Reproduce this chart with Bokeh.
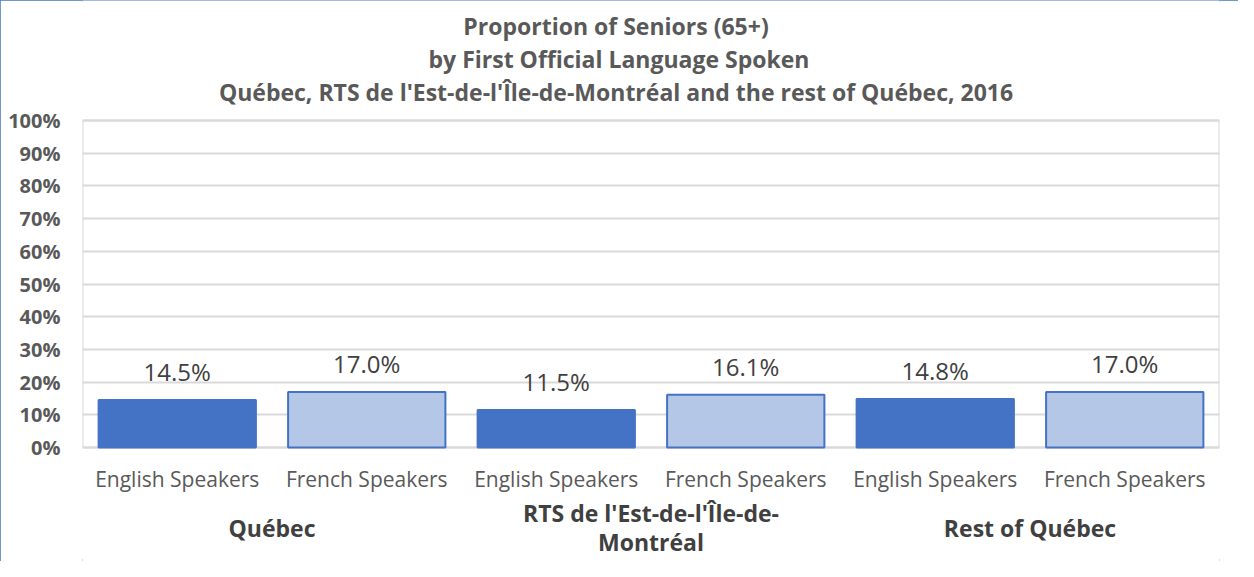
from bokeh.plotting import figure
from bokeh.models import FactorRange, Range1d, ColumnDataSource, LabelSet, FixedTicker, PrintfTickFormatter
from bokeh.core.properties import value
from bokeh.embed import file_html
from bokeh.resources import INLINE

# ---- data ----
groups = ["Québec", "RTS de l'Est-de-l'Île-de-\nMontréal", "Rest of Québec"]
speakers = ["English Speakers", "French Speakers"]
values = [14.5, 17.0, 11.5, 16.1, 14.8, 17.0]  # percent
y_ticks = [0, 10, 20, 30, 40, 50, 60, 70, 80, 90, 100]
title_lines = [
    "Proportion  of Seniors (65+)",
    "by First Official Language Spoken",
    "Québec, RTS de l'Est-de-l'Île-de-Montréal  and the rest of Québec, 2016",
]

DARK = "#4472C4"
LIGHT = "#B4C7E7"
GRID = "#D9D9D9"
FONT = "Open Sans"

# ---- layout (pixels) ----
W, H = 1238, 561
PLOT_TOP, PLOT_BOTTOM = 120, 447          # pixel rows of 100% and 0%
px_per_unit = (PLOT_BOTTOM - PLOT_TOP) / (y_ticks[-1] - y_ticks[0])
y_start = y_ticks[0] - (H - PLOT_BOTTOM) / px_per_unit
y_end = y_ticks[-1] + PLOT_TOP / px_per_unit

factors = [(g, s) for g in groups for s in speakers]
colors = [DARK if s == speakers[0] else LIGHT for g in groups for s in speakers]
labels = [f"{v:.1f}%" for v in values]

src = ColumnDataSource(dict(x=factors, top=values, color=colors, label=labels,
                            sub=[s for g in groups for s in speakers], zero=[y_ticks[0]] * len(factors)))

p = figure(
    width=W, height=H,
    x_range=FactorRange(*factors, group_padding=0, subgroup_padding=0, factor_padding=0, range_padding=0),
    y_range=Range1d(y_start, y_end),
    x_axis_location=None,
    output_backend="svg", toolbar_location=None,
    min_border_left=82, min_border_right=19, min_border_top=0, min_border_bottom=0,
)
p.styles = {"outline": "2px solid #4472C4", "outline-offset": "-2px"}

# plot-area border
p.quad(left=[factors[0] + (-0.5,)], right=[factors[-1] + (0.5,)],
       bottom=[y_ticks[0]], top=[y_ticks[-1]],
       fill_color=None, line_color=GRID, line_width=2)

# title lines, placed above the plot area (centered on the figure)
title_src = ColumnDataSource(dict(x=[groups[1]] * len(title_lines), y=[y_ticks[-1]] * len(title_lines),
                                  text=title_lines, off=[95, 62, 29]))
p.add_layout(LabelSet(x="x", y="y", text="text", source=title_src, x_offset=-32, y_offset="off",
                      text_align="center", text_baseline="middle",
                      text_font=value(FONT), text_font_size=value("23px"),
                      text_font_style=value("bold"), text_color=value("#595959")))

p.vbar(x="x", top="top", width=0.83, source=src, fill_color="color",
       line_color=DARK, line_width=2)

p.add_layout(LabelSet(x="x", y="top", text="label", source=src, y_offset=12,
                      text_align="center", text_baseline="bottom",
                      text_font=value(FONT), text_font_size=value("24px"), text_color=value("#404040")))

# category labels (below the plot area)
p.add_layout(LabelSet(x="x", y="zero", text="sub", source=src, y_offset=-31,
                      text_align="center", text_baseline="middle",
                      text_font=value(FONT), text_font_size=value("21px"), text_color=value("#595959")))

gx, gtext, goff = [], [], []
for g in groups:
    parts = g.split("\n")
    n = len(parts)
    for i, part in enumerate(parts):
        gx.append(g)
        gtext.append(part)
        goff.append(-80 - (i - (n - 1) / 2) * 29)
group_src = ColumnDataSource(dict(x=gx, y=[y_ticks[0]] * len(gx), text=gtext, off=goff))
p.add_layout(LabelSet(x="x", y="y", text="text", source=group_src, y_offset="off",
                      text_align="center", text_baseline="middle",
                      text_font=value(FONT), text_font_size=value("23px"),
                      text_font_style=value("bold"), text_color=value("#404040")))

# y axis
p.yaxis.ticker = FixedTicker(ticks=y_ticks)
p.yaxis.formatter = PrintfTickFormatter(format="%d%%")
p.yaxis.major_label_text_font = FONT
p.yaxis.major_label_text_font_size = "20px"
p.yaxis.major_label_text_font_style = "bold"
p.yaxis.major_label_text_color = "#595959"
p.yaxis.major_tick_line_color = None
p.yaxis.minor_tick_line_color = None
p.yaxis.major_tick_out = 0
p.yaxis.minor_tick_out = 0
p.yaxis.axis_line_color = None
p.yaxis.major_label_standoff = 22

p.xgrid.grid_line_color = None
p.ygrid.grid_line_color = GRID
p.ygrid.grid_line_width = 2
p.outline_line_color = None

open("out.html", "w").write(file_html(p, INLINE))
